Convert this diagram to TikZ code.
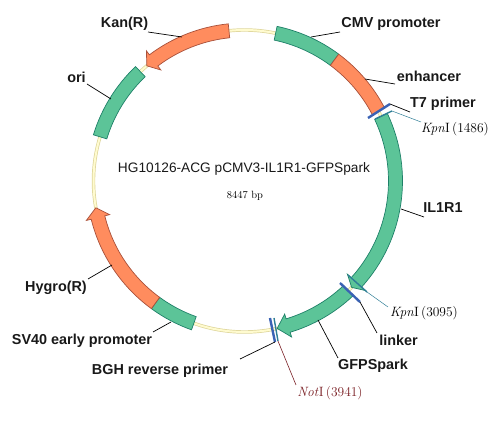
\documentclass[tikz,border=0pt]{standalone}
\usepackage{fontspec}
\newfontfamily\lab{Liberation Sans}
\definecolor{ringedge}{HTML}{DDD59A}
\definecolor{ringfill}{HTML}{FFFBCF}
\definecolor{grn}{HTML}{5CC498}
\definecolor{grnedge}{HTML}{1E8068}
\definecolor{org}{HTML}{FF8C5E}
\definecolor{orgedge}{HTML}{A8503A}
\definecolor{bluecut}{HTML}{3A62B4}
\definecolor{tealcut}{HTML}{2F7E96}
\definecolor{darkred}{HTML}{7A1F24}
\tikzset{
  greenseg/.style={fill=grn,draw=grnedge,line width=0.7pt},
  orangeseg/.style={fill=org,draw=orgedge,line width=0.7pt},
  leader/.style={draw=black,line width=0.7pt},
  feature/.style={font=\lab\bfseries\fontsize{14.4}{16}\selectfont,inner sep=0pt,text=black!90},
  site/.style={font=\fontsize{13.5}{15}\selectfont,inner sep=0pt},
  cutblue/.style={draw=bluecut,line width=2.4pt},
  cutteal/.style={draw=tealcut,line width=1.4pt},
  leadteal/.style={draw=tealcut,line width=0.5pt},
  leadred/.style={draw=darkred,line width=0.6pt}
}
\newcommand{\segm}[3]{\draw[#3] (#1:158pt) arc[start angle=#1,end angle=#2,radius=158pt] -- (#2:144pt) arc[start angle=#2,end angle=#1,radius=144pt] -- cycle;}
\newcommand{\arrowsegm}[4]{\draw[#4] (#1:158pt) arc[start angle=#1,end angle=#2,radius=158pt] -- (#2:163pt) -- (#3:151pt) -- (#2:139pt) -- (#2:144pt) arc[start angle=#2,end angle=#1,radius=144pt] -- cycle;}
\begin{document}
\begin{tikzpicture}[x=1pt,y=-1pt]
\useasboundingbox (0,0) rectangle (499,430);
\begin{scope}[shift={(244.5,181)}]
  \draw[ringedge,line width=3.4pt] (0,0) circle [radius=151pt];
  \draw[ringfill,line width=2pt] (0,0) circle [radius=151pt];
  \segm{78.1}{53.4}{greenseg}
  \segm{53.4}{27.5}{orangeseg}
  \arrowsegm{25.3}{-42.2}{-44.8}{greenseg}
  \arrowsegm{-46.5}{-73.2}{-77.5}{greenseg}
  \segm{233.9}{250.4}{greenseg}
  \arrowsegm{233.9}{194}{190.2}{orangeseg}
  \segm{163}{133.6}{greenseg}
  \arrowsegm{95.9}{127}{130.3}{orangeseg}
\end{scope}
% cut sites
\coordinate (t7a) at (368,118);   \coordinate (t7b) at (390,104);
\coordinate (k1a) at (375,119);   \coordinate (k1b) at (392,111);
\coordinate (lka) at (340,283);   \coordinate (lkb) at (360,302);
\coordinate (k2a) at (348,275);   \coordinate (k2b) at (367,292);
\coordinate (bga) at (270,318);   \coordinate (bgb) at (275,342);
\coordinate (nta) at (274,318);   \coordinate (ntb) at (278,341);
\draw[cutteal] (k1a) -- (k1b);
\draw[cutblue] (t7a) -- (t7b);
\draw[cutteal] (k2a) -- (k2b);
\draw[cutblue] (lka) -- (lkb);
\draw[cutteal] (nta) -- (ntb);
\draw[cutblue] (bga) -- (bgb);
% labels
\node[feature] (kan) at (124.5,24) {Kan(R)};
\node[feature] (ori) at (76.5,77) {ori};
\node[feature] (cmv) at (391,24) {CMV promoter};
\node[feature] (enh) at (429,76) {enhancer};
\node[feature] (t7) at (443,104) {T7 primer};
\node[feature] (il) at (443,208) {IL1R1};
\node[feature] (lnk) at (398.5,340) {linker};
\node[feature] (gfp) at (373,366) {GFPSpark};
\node[feature] (bgh) at (160,371) {BGH reverse primer};
\node[feature] (sv) at (82,341) {SV40 early promoter};
\node[feature] (hyg) at (56,288) {Hygro(R)};
\node[site] (k1) at (455,129) {\textit{Kpn}I\,(\oldstylenums{1486})};
\node[site] (k2) at (424,313) {\textit{Kpn}I\,(\oldstylenums{3095})};
\node[site,text=darkred] (nt) at (330,393) {\textit{Not}I\,(\oldstylenums{3941})};
\node[font=\lab\fontsize{13.7}{16}\selectfont,inner sep=0pt,text=black!90] (title) at (244,169) {HG10126-ACG pCMV3-IL1R1-GFPSpark};
\node[font=\fontsize{10.5}{12}\selectfont,inner sep=0pt] (size) at (245,196) {\oldstylenums{8447} bp};
% leaders
\coordinate (pkan) at (182,37);
\coordinate (pori) at (111,99);
\coordinate (pcmv) at (311,37);
\coordinate (penh) at (365,79);
\coordinate (pil) at (401,209);
\coordinate (pgfp) at (318,320);
\coordinate (psv) at (171,322);
\coordinate (phyg) at (112,265);
\draw[leader] (148,32) -- (pkan);
\draw[leader] (87,84) -- (pori);
\draw[leader] (340,32) -- (pcmv);
\draw[leader] (395,84) -- (penh);
\draw[leader] (410,112) -- (t7b);
\draw[leader] (424,217) -- (pil);
\draw[leader] (377,333) -- (lkb);
\draw[leader] (338,358) -- (pgfp);
\draw[leader] (240,359) -- (bgb);
\draw[leader] (153,332) -- (psv);
\draw[leader] (88,279) -- (phyg);
\draw[leadteal] (421,122) -- (k1b);
\draw[leadteal] (388,307) -- (k2b);
\draw[leadred] (296,385) -- (ntb);
\end{tikzpicture}
\end{document}
